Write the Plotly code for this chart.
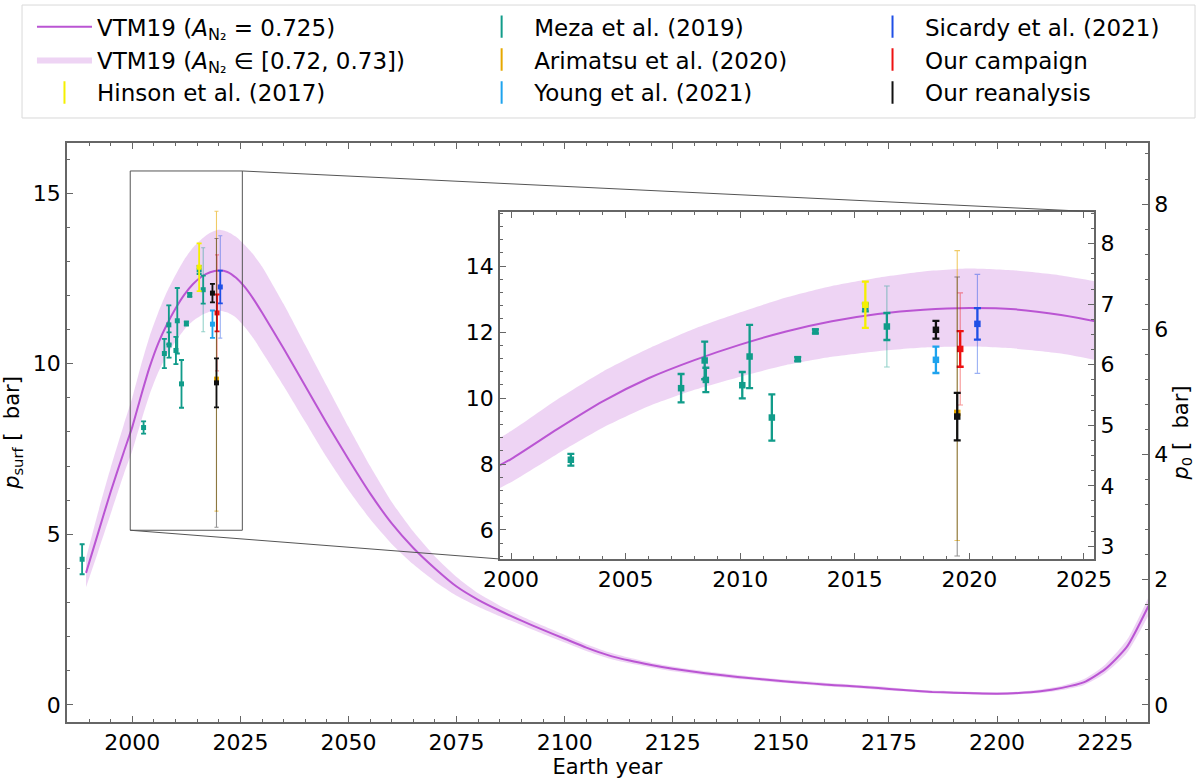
import plotly.graph_objects as go

# VTM19 model (A_N2 = 0.725) and envelope for A_N2 in [0.72, 0.73], surface pressure in microbar
model_years = [1989.3, 1992, 1995, 1998, 2000, 2002, 2004, 2006, 2008, 2010, 2012, 2014, 2016, 2018,
               2020, 2022, 2024, 2026, 2028, 2030, 2035, 2040, 2045, 2050, 2055, 2060, 2065, 2070, 2075,
               2080, 2085, 2090, 2095, 2100, 2105, 2110, 2115, 2120, 2125, 2130, 2135, 2140, 2145,
               2150, 2155, 2160, 2165, 2170, 2175, 2180, 2185, 2190, 2195, 2200, 2205, 2210, 2215,
               2220, 2225, 2230, 2235]
model_p = [3.87, 5.0, 6.25, 7.4, 8.15, 9.05, 9.9, 10.6, 11.15, 11.62, 12.02, 12.33, 12.55, 12.68,
           12.73, 12.69, 12.52, 12.25, 11.9, 11.5, 10.45, 9.35, 8.25, 7.2, 6.2, 5.32, 4.6, 4.0, 3.47,
           3.08, 2.76, 2.47, 2.2, 1.94, 1.68, 1.46, 1.30, 1.17, 1.06, 0.97, 0.89, 0.82, 0.76,
           0.70, 0.65, 0.60, 0.56, 0.52, 0.47, 0.42, 0.38, 0.36, 0.34, 0.33, 0.35, 0.40, 0.50,
           0.66, 1.05, 1.70, 2.9]
model_p_hi = [4.3, 5.6, 6.95, 8.2, 9.0, 9.95, 10.8, 11.5, 12.1, 12.6, 13.05, 13.4, 13.65, 13.84,
              13.93, 13.87, 13.72, 13.48, 13.2, 12.85, 11.75, 10.55, 9.35, 8.15, 7.0, 5.95, 5.08, 4.35, 3.75,
              3.27, 2.91, 2.60, 2.32, 2.05, 1.78, 1.55, 1.38, 1.24, 1.13, 1.03, 0.95, 0.88, 0.81,
              0.75, 0.70, 0.65, 0.61, 0.57, 0.52, 0.46, 0.42, 0.40, 0.38, 0.37, 0.39, 0.45, 0.56,
              0.75, 1.18, 1.90, 3.15]
model_p_lo = [3.45, 4.45, 5.6, 6.75, 7.45, 8.3, 9.1, 9.75, 10.25, 10.65, 11.0, 11.25, 11.42, 11.53,
              11.56, 11.5, 11.35, 11.08, 10.75, 10.35, 9.35, 8.3, 7.25, 6.3, 5.45, 4.72, 4.12, 3.62, 3.2,
              2.88, 2.60, 2.34, 2.08, 1.83, 1.58, 1.37, 1.22, 1.10, 0.99, 0.91, 0.83, 0.76, 0.71,
              0.65, 0.60, 0.55, 0.51, 0.47, 0.42, 0.38, 0.34, 0.32, 0.30, 0.29, 0.31, 0.35, 0.44,
              0.58, 0.93, 1.52, 2.62]

# observations
meza_years = [1988.4, 2002.61, 2007.42, 2008.45, 2008.5, 2010.09, 2010.41, 2011.38, 2012.51, 2013.28, 2015.46, 2016.4]
meza_p = [4.27, 8.13, 10.30, 11.14, 10.55, 10.39, 11.26, 9.41, 11.18, 12.02, 12.75, 12.17]
meza_err = [0.44, 0.18, 0.43, 0.57, 0.37, 0.40, 0.96, 0.70, 0.06, 0.06, 0.12, 0.41]
meza_err_full = [0.44, 0.18, 0.43, 0.57, 0.37, 0.40, 0.96, 0.70, 0.06, 0.06, 0.12, 1.23]

hinson_years = [2015.46]
hinson_p = [12.83]
hinson_err = [0.70]

arimatsu_years = [2019.47]
arimatsu_p = [9.55]
arimatsu_err_plus = [4.92]
arimatsu_err_minus = [3.87]

young_years = [2018.54]
young_p = [11.16]
young_err = [0.40]

sicardy_years = [2020.35]
sicardy_p = [12.25]
sicardy_err = [0.48]
sicardy_err_full = [1.50]

campaign_years = [2019.60]
campaign_p = [11.49]
campaign_err = [0.54]
campaign_err_full = [1.70]

reanalysis_years = [2018.54, 2019.47]
reanalysis_p = [12.07, 9.44]
reanalysis_err = [0.27, 0.72]
reanalysis_err_full = [0.27, 4.23]

P_RATIO = 1.835   # p_surf / p_0

FONT = "DejaVu Sans"
LINE_C = "rgb(186,85,211)"
BAND_C = "rgba(186,85,211,0.25)"
AX_C = "#666666"

MAIN_X = [1984.9, 2234.9]
MAIN_Y = [-0.5, 16.47]
INS_X = [1999.52, 2025.45]
INS_Y = [5.12, 15.65]
INS_DOM_X = [0.4006, 0.9503]
INS_DOM_Y = [0.2815, 0.8813]

series = [
    # name, years, values, err, err_minus, err_full, colour, legend
    ("Meza et al. (2019)", meza_years, meza_p, meza_err, None, meza_err_full, "#119c8a", "legend2"),
    ("Hinson et al. (2017)", hinson_years, hinson_p, hinson_err, None, None, "#f5f000", "legend"),
    ("Arimatsu et al. (2020)", arimatsu_years, arimatsu_p, arimatsu_err_plus, arimatsu_err_minus, None, "#e6a800", "legend2"),
    ("Young et al. (2021)", young_years, young_p, young_err, None, None, "#1ea3ee", "legend2"),
    ("Sicardy et al. (2021)", sicardy_years, sicardy_p, sicardy_err, None, sicardy_err_full, "#1f4fe6", "legend3"),
    ("Our campaign", campaign_years, campaign_p, campaign_err, None, campaign_err_full, "#ee1111", "legend3"),
    ("Our reanalysis", reanalysis_years, reanalysis_p, reanalysis_err, None, reanalysis_err_full, "#111111", "legend3"),
]
legend_rank = {"Hinson et al. (2017)": 3, "Meza et al. (2019)": 1, "Arimatsu et al. (2020)": 2,
               "Young et al. (2021)": 3, "Sicardy et al. (2021)": 1, "Our campaign": 2, "Our reanalysis": 3}


def rgba(hexc, a):
    h = hexc.lstrip("#")
    return "rgba(%d,%d,%d,%s)" % (int(h[0:2], 16), int(h[2:4], 16), int(h[4:6], 16), a)


fig = go.Figure()

panels = [("x", "y", 5, 2.5, 1.8), ("x2", "y3", 6.5, 3.5, 2.3)]
for xa, ya, msize, cap, thick in panels:
    main = xa == "x"
    fig.add_trace(go.Scatter(x=model_years, y=model_p_lo, xaxis=xa, yaxis=ya, mode="lines",
                             line=dict(width=0, shape="spline", smoothing=0.6), showlegend=False,
                             hoverinfo="skip"))
    fig.add_trace(go.Scatter(x=model_years, y=model_p_hi, xaxis=xa, yaxis=ya, mode="lines",
                             line=dict(width=0, shape="spline", smoothing=0.6), fill="tonexty",
                             fillcolor=BAND_C, showlegend=main, legend="legend", legendrank=2,
                             name="VTM19 (<i>A</i><sub>N₂</sub> ∈ [0.72, 0.73])"))
    fig.add_trace(go.Scatter(x=model_years, y=model_p, xaxis=xa, yaxis=ya, mode="lines",
                             line=dict(color=LINE_C, width=2, shape="spline", smoothing=0.6),
                             showlegend=main, legend="legend", legendrank=1,
                             name="VTM19 (<i>A</i><sub>N₂</sub> = 0.725)"))
    for name, yrs, vals, err, errm, errf, col, leg in series:
        if errf is not None:
            fig.add_trace(go.Scatter(x=yrs, y=vals, xaxis=xa, yaxis=ya, mode="markers",
                                     marker=dict(size=1, color="rgba(0,0,0,0)"),
                                     error_y=dict(type="data", array=errf, color=rgba(col, 0.45),
                                                  thickness=1.1, width=cap * 0.8),
                                     showlegend=False, hoverinfo="skip"))
        ey = dict(type="data", array=err, color=col, thickness=thick, width=cap)
        if errm is not None:
            ey = dict(type="data", symmetric=False, array=err, arrayminus=errm, color=rgba(col, 0.6),
                      thickness=1.1, width=cap * 0.8)
        fig.add_trace(go.Scatter(x=yrs, y=vals, xaxis=xa, yaxis=ya, mode="markers",
                                 marker=dict(symbol="square", size=msize, color=col),
                                 error_y=ey, showlegend=False, name=name))

# secondary axes need a trace each
fig.add_trace(go.Scatter(x=[None], y=[None], xaxis="x", yaxis="y2", showlegend=False))
fig.add_trace(go.Scatter(x=[None], y=[None], xaxis="x2", yaxis="y4", showlegend=False))

# legend entries for the observations
for name, yrs, vals, err, errm, errf, col, leg in series:
    fig.add_trace(go.Scatter(x=[None], y=[None], mode="markers", name=name, legend=leg,
                             legendrank=legend_rank[name],
                             marker=dict(symbol="line-ns-open", size=16, color=col,
                                         line=dict(color=col, width=2))))

tick_font = dict(family=FONT, size=22, color="black")


def axis_style(**kw):
    d = dict(showline=True, linecolor=AX_C, linewidth=1.6, ticks="inside", ticklen=6,
             tickwidth=1.3, tickcolor=AX_C, showgrid=False, zeroline=False, tickfont=tick_font)
    d.update(kw)
    return d


def to_px(v, rng):
    return (v - rng[0]) / (rng[1] - rng[0])


shapes = [
    dict(type="rect", xref="x", yref="y", x0=INS_X[0], x1=INS_X[1], y0=INS_Y[0], y1=INS_Y[1],
         line=dict(color="#555555", width=1)),
    dict(type="line", xref="paper", yref="paper",
         x0=to_px(INS_X[1], MAIN_X), y0=to_px(INS_Y[1], MAIN_Y), x1=INS_DOM_X[1], y1=INS_DOM_Y[1],
         line=dict(color="#555555", width=1)),
    dict(type="line", xref="paper", yref="paper",
         x0=to_px(INS_X[0], MAIN_X), y0=to_px(INS_Y[0], MAIN_Y), x1=INS_DOM_X[0], y1=INS_DOM_Y[0],
         line=dict(color="#555555", width=1)),
    # legend frame
    dict(type="rect", xref="paper", yref="paper", x0=-0.0416, x1=1.0435, y0=1.0432, y1=1.2383,
         line=dict(color="#d9d9d9", width=1), layer="below"),
]

leg_common = dict(orientation="v", yanchor="top", xanchor="left", bgcolor="rgba(0,0,0,0)",
                  borderwidth=0, itemwidth=55, traceorder="normal",
                  font=dict(family=FONT, size=23, color="black"), tracegroupgap=0)

fig.update_layout(
    width=1200, height=781,
    margin=dict(l=67, r=52, t=143, b=59, autoexpand=False),
    paper_bgcolor="white", plot_bgcolor="white",
    font=dict(family=FONT, size=21, color="black"),
    showlegend=True,
    legend=dict(x=-0.0324, y=1.238, **leg_common),
    legend2=dict(x=0.372, y=1.238, **leg_common),
    legend3=dict(x=0.7336, y=1.238, **leg_common),
    shapes=shapes,
    xaxis=axis_style(range=MAIN_X, domain=[0, 1], tickvals=[2000, 2025, 2050, 2075, 2100, 2125, 2150, 2175, 2200, 2225],
                     mirror="ticks", minor=dict(dtick=5, tick0=2000, ticks="inside", ticklen=3.5, tickcolor=AX_C),
                     title=dict(text="Earth year", font=dict(family=FONT, size=21), standoff=4)),
    yaxis=axis_style(range=MAIN_Y, domain=[0, 1], tickvals=[0, 5, 10, 15],
                     minor=dict(dtick=1, tick0=0, ticks="inside", ticklen=3.5, tickcolor=AX_C),
                     title=dict(text="<i>p</i><sub>surf</sub> [\u00a0\u00a0bar]", font=dict(family=FONT, size=21), standoff=8)),
    yaxis2=axis_style(range=[MAIN_Y[0] / P_RATIO, MAIN_Y[1] / P_RATIO], overlaying="y", side="right", anchor="x",
                      tickvals=[0, 2, 4, 6, 8],
                      minor=dict(dtick=0.4, tick0=0, ticks="inside", ticklen=3.5, tickcolor=AX_C),
                      title=dict(text="<i>p</i><sub>0</sub> [\u00a0\u00a0bar]", font=dict(family=FONT, size=21), standoff=6)),
    xaxis2=axis_style(range=INS_X, domain=INS_DOM_X, anchor="y3", tickvals=[2000, 2005, 2010, 2015, 2020, 2025],
                      mirror="ticks", minor=dict(dtick=1, tick0=2000, ticks="inside", ticklen=3.5, tickcolor=AX_C)),
    yaxis3=axis_style(range=INS_Y, domain=INS_DOM_Y, anchor="x2", tickvals=[6, 8, 10, 12, 14],
                      minor=dict(dtick=0.4, tick0=6, ticks="inside", ticklen=3.5, tickcolor=AX_C)),
    yaxis4=axis_style(range=[INS_Y[0] / P_RATIO, INS_Y[1] / P_RATIO], overlaying="y3", side="right", anchor="x2",
                      tickvals=[3, 4, 5, 6, 7, 8],
                      minor=dict(dtick=0.25, tick0=3, ticks="inside", ticklen=3.5, tickcolor=AX_C)),
)

fig.write_html("out.html", config={"displayModeBar": False},
               post_script="document.body.style.margin='0px';")
